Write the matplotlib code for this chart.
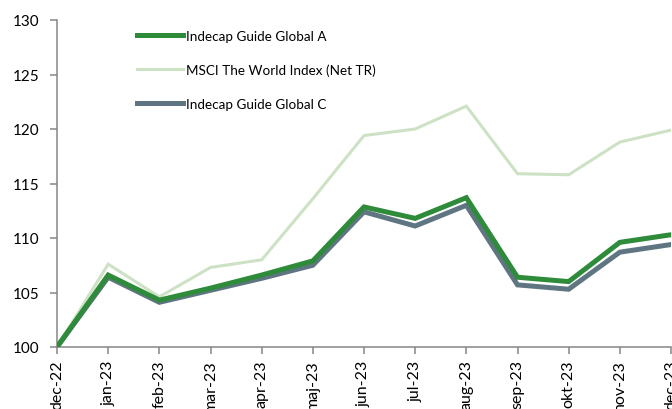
import numpy as np
import matplotlib as mpl
mpl.use('Agg')
import matplotlib.pyplot as plt

plt.rcParams['font.family'] = ['Lato', 'DejaVu Sans']

months = ["dec-22", "jan-23", "feb-23", "mar-23", "apr-23", "maj-23", "jun-23",
          "jul-23", "aug-23", "sep-23", "okt-23", "nov-23", "dec-23"]
global_a = [100, 106.6, 104.3, 105.4, 106.6, 107.9, 112.85, 111.8, 113.7, 106.4, 106.0, 109.6, 110.3]
msci = [100, 107.6, 104.6, 107.3, 108.0, 113.6, 119.4, 120.0, 122.1, 115.9, 115.8, 118.8, 119.9]
global_c = [100, 106.4, 104.1, 105.2, 106.3, 107.5, 112.4, 111.1, 113.0, 105.7, 105.3, 108.7, 109.4]

W, H = 672, 410
DPI = 100
fig = plt.figure(figsize=(W / DPI, H / DPI), dpi=DPI)
ax = fig.add_axes([57 / W, 1 - 348 / H, (671 - 57) / W, (348 - 21) / H])

x = np.arange(len(months))
ax.plot(x, global_a, color="#2e8b3a", linewidth=3.6, label="Indecap Guide Global A",
        solid_joinstyle='miter', zorder=3)
ax.plot(x, msci, color="#cde2c4", linewidth=2.2, label="MSCI The World Index (Net TR)",
        solid_joinstyle='miter', zorder=2)
ax.plot(x, global_c, color="#5f7682", linewidth=3.6, label="Indecap Guide Global C",
        solid_joinstyle='miter', zorder=2.5)

ax.set_xlim(0, len(months) - 1)
ax.set_ylim(100, 130)
ax.set_yticks(np.arange(100, 131, 5))
ax.set_xticks(x)
ax.set_xticklabels(months, rotation=90)

for s in ["top", "right"]:
    ax.spines[s].set_visible(False)
for s in ["left", "bottom"]:
    ax.spines[s].set_color("#868686")
    ax.spines[s].set_linewidth(1.1)
ax.tick_params(axis='both', colors="#868686", labelcolor="black",
               length=5, width=1.1, direction='out')
ax.tick_params(axis='y', pad=8, labelsize=11)
ax.tick_params(axis='x', pad=4, labelsize=11.5)

ax.legend(loc='upper left', bbox_to_anchor=(137 / W, 1 - 31 / H),
          bbox_transform=fig.transFigure, frameon=False, fontsize=9.7,
          handlelength=3.4, handletextpad=0.2, labelspacing=1.6,
          borderpad=0, borderaxespad=0)

fig.savefig("out.png", dpi=DPI)
